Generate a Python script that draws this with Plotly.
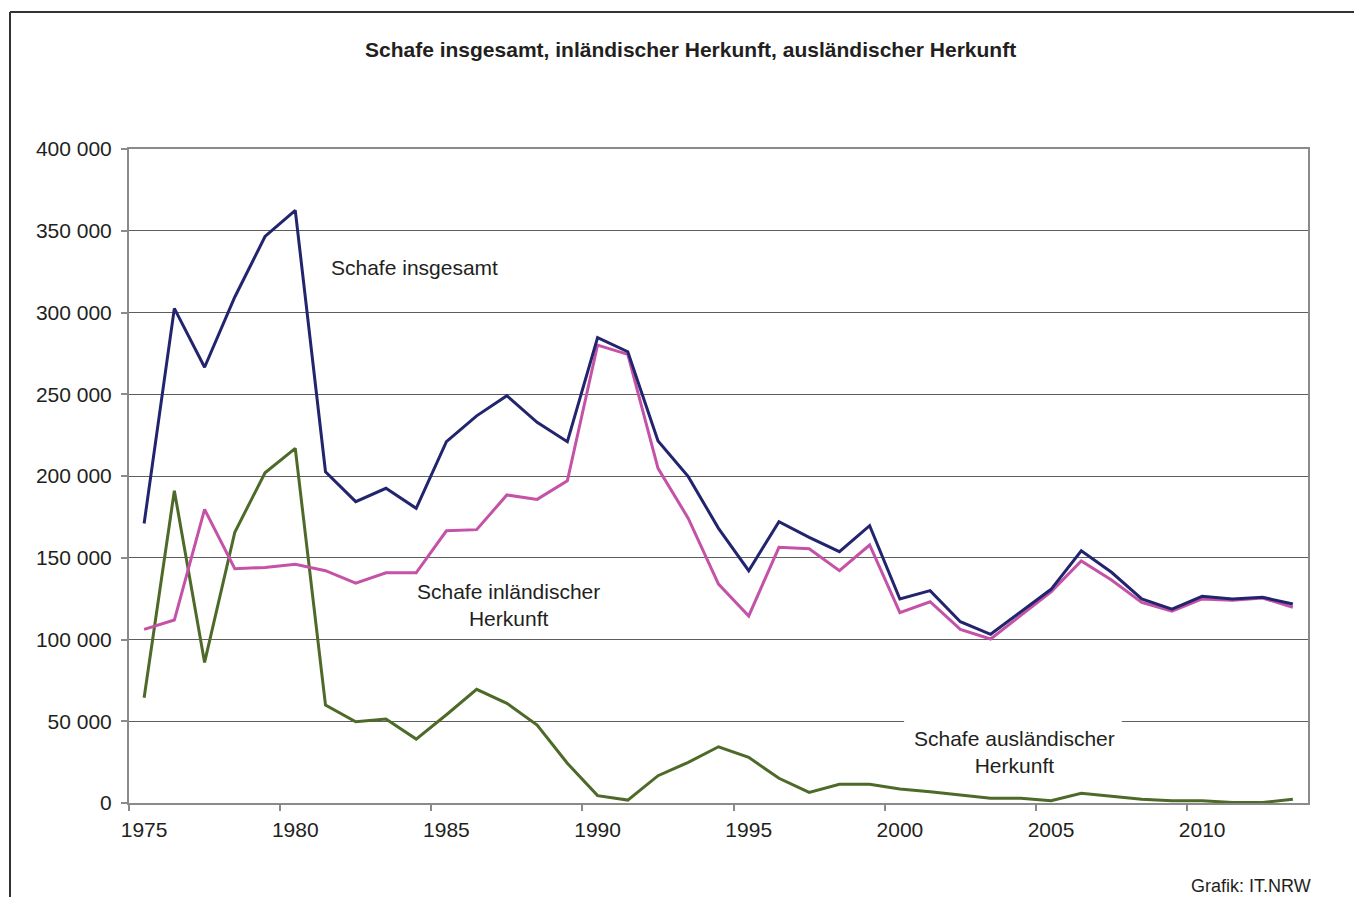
import plotly.graph_objects as go

years = list(range(1975, 2014))

total = [171000, 302500, 266500, 309500, 346500, 362500, 202600, 184300, 192500, 180200,
         221000, 236800, 249100, 232800, 221000, 284600, 276000, 221400, 199600, 168000,
         142100, 172000, 162500, 153700, 169600, 124800, 129900, 110900, 103200, 117000,
         130700, 154300, 141100, 124800, 118600, 126400, 124800, 125800, 121700]

inland = [106200, 111900, 179600, 143300, 144100, 146000, 142100, 134500, 140800, 140800,
          166500, 167200, 188400, 185700, 197100, 280100, 274400, 204700, 174100, 133900,
          114400, 156400, 155500, 142100, 157800, 116400, 123100, 106200, 100300, 115000,
          129200, 148000, 136400, 122700, 117400, 124800, 124000, 125400, 119700]

foreign = [64400, 191000, 86000, 165600, 202000, 216900, 59900, 49700, 51400, 39100,
           54000, 69500, 61000, 47700, 24300, 4500, 1800, 16700, 24900, 34400,
           27900, 15100, 6500, 11400, 11400, 8600, 6900, 4900, 2900, 2900,
           1400, 5900, 3900, 2300, 1400, 1400, 300, 300, 2300]

x_label_years = [1975, 1980, 1985, 1990, 1995, 2000, 2005, 2010]
y_tick_vals = [0, 50000, 100000, 150000, 200000, 250000, 300000, 350000, 400000]
y_tick_text = ["0", "50 000", "100 000", "150 000", "200 000", "250 000", "300 000", "350 000", "400 000"]

title_text = "Schafe insgesamt, inländischer Herkunft, ausländischer Herkunft"
source_text = "Grafik: IT.NRW"

FONT = "Liberation Sans, Arial, sans-serif"
TXT = "#231f20"

fig = go.Figure()
fig.add_trace(go.Scatter(x=years, y=foreign, mode="lines", name="Schafe ausländischer Herkunft",
                         line=dict(color="#4d6a28", width=3)))
fig.add_trace(go.Scatter(x=years, y=inland, mode="lines", name="Schafe inländischer Herkunft",
                         line=dict(color="#c452a6", width=3)))
fig.add_trace(go.Scatter(x=years, y=total, mode="lines", name="Schafe insgesamt",
                         line=dict(color="#22246e", width=3)))

# page offset of the figure (body margin)
OFF = 8
L, R, T, B = 129 - OFF, 1308 - OFF, 149 - OFF, 803 - OFF
W, H = 1362 - OFF, 897 - OFF

def px(xp):
    return (xp - OFF - L) / (R - L)

def py(yp):
    return (B - (yp - OFF)) / (B - T)

fig.update_layout(
    width=W, height=H,
    margin=dict(l=L, r=W - R, t=T, b=H - B, pad=0),
    paper_bgcolor="white", plot_bgcolor="white",
    showlegend=False,
    font=dict(family=FONT, color=TXT, size=21),
    xaxis=dict(
        range=[1974.5, 2013.5],
        tickmode="array", tickvals=x_label_years, ticktext=[str(v) for v in x_label_years],
        ticks="", showgrid=False, zeroline=False,
        showline=True, linecolor="#8a8a8a", linewidth=2, mirror=True,
        tickfont=dict(size=21, color=TXT, family=FONT),
        ticklabelstandoff=7,
        minor=dict(tickmode="array", tickvals=[1974.5 + 5 * k for k in range(8)],
                   ticks="outside", ticklen=6, tickwidth=2, tickcolor="#8a8a8a", showgrid=False),
    ),
    yaxis=dict(
        range=[0, 400000],
        tickmode="array", tickvals=y_tick_vals, ticktext=y_tick_text,
        ticks="outside", ticklen=6, tickwidth=2, tickcolor="#8a8a8a",
        showgrid=True, gridcolor="#5e5e5e", gridwidth=1, zeroline=False,
        showline=True, linecolor="#8a8a8a", linewidth=2, mirror=True,
        tickfont=dict(size=21, color=TXT, family=FONT),
        ticklabelstandoff=5,
    ),
)

# white gap in the 50 000 gridline behind the foreign label
fig.add_shape(type="rect", xref="x", yref="y", x0=2000.14, x1=2007.34, y0=46000, y1=54000,
              fillcolor="white", line=dict(width=0), layer="between")

annotations = [
    dict(text="<b>" + title_text + "</b>", x=px(690), y=py(50), font=dict(size=21)),
    dict(text="Schafe insgesamt", x=px(414), y=py(267), font=dict(size=21)),
    dict(text="Schafe inländischer<br>Herkunft", x=px(508), y=py(605), font=dict(size=21)),
    dict(text="Schafe ausländischer<br>Herkunft", x=px(1014), y=py(752), font=dict(size=21)),
    dict(text=source_text, x=px(1313), y=py(886), xanchor="right", font=dict(size=18)),
]
for a in annotations:
    a.setdefault("xanchor", "center")
    fig.add_annotation(xref="paper", yref="paper", showarrow=False, yanchor="middle", **a)

# outer frame (top and left edges visible)
fig.add_shape(type="line", xref="paper", yref="paper", x0=px(10), x1=px(1400), y0=py(12), y1=py(12),
              line=dict(color="#333333", width=2), layer="above")
fig.add_shape(type="line", xref="paper", yref="paper", x0=px(10), x1=px(10), y0=py(12), y1=py(950),
              line=dict(color="#333333", width=2), layer="above")

fig.write_html("out.html")
